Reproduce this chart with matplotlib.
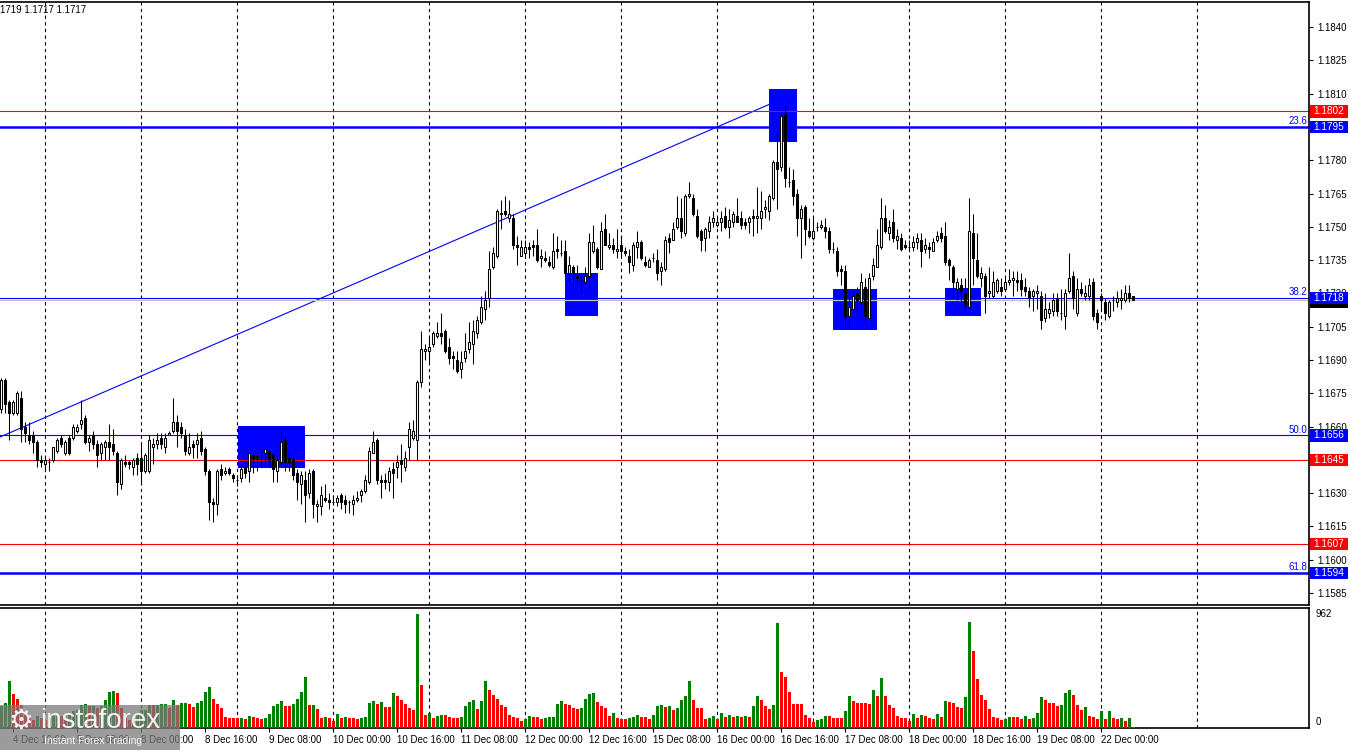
import matplotlib
matplotlib.use("Agg")
import matplotlib.pyplot as plt
import matplotlib.transforms as mtransforms
import numpy as np
from matplotlib.patches import Rectangle

plt.rcParams["font.family"] = ["Liberation Sans", "DejaVu Sans"]

# EURUSD H1 candles, 4 Dec 16:00 .. 22 Dec 08:00
# prices in 1e-4 above 1.0000 (1681 -> 1.1681)
opens = [
    1668, 1681, 1671, 1666, 1666, 1673, 1660, 1656, 1656, 1653,
    1645, 1643, 1644, 1645, 1649, 1655, 1648, 1655, 1655, 1658,
    1661, 1664, 1653, 1656, 1652, 1648, 1651, 1653, 1652, 1648,
    1634, 1644, 1644, 1642, 1646, 1646, 1640, 1640, 1651, 1652,
    1655, 1651, 1656, 1658, 1662, 1660, 1656, 1648, 1652, 1652,
    1655, 1650, 1640, 1626, 1625, 1641, 1639, 1641, 1638, 1636,
    1637, 1642, 1640, 1647, 1647, 1647, 1648, 1649, 1647, 1640,
    1644, 1654, 1646, 1645, 1639, 1634, 1636, 1630, 1640, 1624,
    1624, 1628, 1627, 1626, 1626, 1629, 1627, 1626, 1625, 1627,
    1629, 1631, 1635, 1648, 1654, 1636, 1636, 1635, 1641, 1642,
    1645, 1642, 1651, 1655, 1654, 1680, 1694, 1694, 1697, 1701,
    1702, 1703, 1696, 1692, 1690, 1686, 1691, 1695, 1697, 1702,
    1707, 1713, 1718, 1732, 1737, 1756, 1757, 1754, 1754, 1742,
    1737, 1738, 1741, 1742, 1742, 1736, 1736, 1734, 1732, 1740,
    1738, 1739, 1729, 1732, 1728, 1726, 1725, 1728, 1739, 1740,
    1731, 1749, 1741, 1742, 1739, 1742, 1739, 1737, 1733, 1741,
    1743, 1734, 1732, 1736, 1735, 1730, 1731, 1745, 1744, 1750,
    1754, 1747, 1764, 1763, 1755, 1748, 1745, 1748, 1752, 1751,
    1752, 1755, 1750, 1752, 1755, 1754, 1752, 1752, 1755, 1754,
    1754, 1758, 1757, 1763, 1779, 1777, 1801, 1770, 1771, 1765,
    1754, 1759, 1748, 1745, 1750, 1750, 1750, 1748, 1740, 1739,
    1731, 1730, 1710, 1713, 1720, 1716, 1723, 1709, 1728, 1732,
    1741, 1754, 1747, 1752, 1744, 1745, 1742, 1741, 1741, 1743,
    1744, 1740, 1741, 1739, 1744, 1747, 1746, 1735, 1732, 1722,
    1724, 1720, 1714, 1747, 1735, 1727, 1728, 1720, 1719, 1721,
    1723, 1722, 1725, 1726, 1726, 1726, 1723, 1721, 1719, 1720,
    1719, 1709, 1711, 1712, 1718, 1711, 1710, 1721, 1728, 1711,
    1722, 1719, 1719, 1725, 1711, 1719, 1716, 1710, 1717, 1716,
    1717, 1717, 1720, 1719,
]
highs = [
    1682, 1682, 1672, 1672, 1676, 1676, 1662, 1662, 1658, 1654,
    1647, 1646, 1646, 1651, 1655, 1656, 1654, 1656, 1661, 1661,
    1672, 1665, 1656, 1658, 1654, 1653, 1654, 1661, 1659, 1649,
    1646, 1647, 1645, 1646, 1648, 1652, 1648, 1656, 1655, 1657,
    1657, 1657, 1658, 1673, 1665, 1662, 1659, 1657, 1654, 1657,
    1658, 1651, 1641, 1628, 1641, 1643, 1642, 1642, 1639, 1638,
    1643, 1645, 1649, 1648, 1648, 1649, 1651, 1650, 1648, 1647,
    1658, 1656, 1648, 1647, 1641, 1640, 1640, 1641, 1641, 1627,
    1633, 1634, 1630, 1629, 1629, 1630, 1629, 1627, 1629, 1631,
    1632, 1638, 1651, 1658, 1655, 1638, 1639, 1642, 1644, 1647,
    1652, 1649, 1662, 1663, 1681, 1703, 1697, 1701, 1703, 1707,
    1711, 1704, 1700, 1694, 1694, 1694, 1702, 1707, 1708, 1710,
    1719, 1721, 1739, 1741, 1758, 1762, 1764, 1762, 1756, 1746,
    1744, 1744, 1743, 1744, 1749, 1740, 1739, 1737, 1747, 1746,
    1744, 1744, 1737, 1733, 1733, 1728, 1732, 1747, 1751, 1741,
    1752, 1756, 1747, 1745, 1749, 1746, 1741, 1740, 1743, 1748,
    1744, 1737, 1736, 1738, 1740, 1734, 1746, 1747, 1752, 1764,
    1763, 1765, 1770, 1765, 1758, 1749, 1750, 1755, 1757, 1755,
    1757, 1759, 1758, 1757, 1763, 1757, 1754, 1755, 1758, 1768,
    1766, 1762, 1765, 1780, 1793, 1802, 1805, 1777, 1776, 1767,
    1760, 1760, 1754, 1754, 1752, 1753, 1754, 1750, 1743, 1741,
    1733, 1733, 1720, 1721, 1723, 1729, 1727, 1729, 1736, 1749,
    1763, 1760, 1753, 1758, 1749, 1747, 1744, 1744, 1746, 1747,
    1747, 1745, 1743, 1745, 1748, 1750, 1752, 1736, 1733, 1727,
    1727, 1727, 1763, 1756, 1747, 1732, 1729, 1732, 1730, 1727,
    1727, 1727, 1731, 1730, 1730, 1729, 1727, 1723, 1722, 1724,
    1721, 1720, 1716, 1720, 1720, 1722, 1722, 1738, 1730, 1727,
    1725, 1724, 1727, 1727, 1713, 1720, 1718, 1717, 1719, 1721,
    1722, 1724, 1724, 1719,
]
lows = [
    1666, 1666, 1654, 1665, 1665, 1653, 1653, 1652, 1648, 1642,
    1642, 1640, 1640, 1644, 1648, 1651, 1647, 1647, 1654, 1657,
    1659, 1652, 1649, 1650, 1642, 1645, 1645, 1645, 1647, 1629,
    1632, 1642, 1641, 1638, 1638, 1635, 1639, 1639, 1643, 1650,
    1650, 1648, 1656, 1657, 1651, 1655, 1647, 1647, 1646, 1646,
    1647, 1638, 1618, 1617, 1620, 1636, 1638, 1638, 1635, 1633,
    1635, 1637, 1635, 1639, 1640, 1642, 1643, 1642, 1635, 1635,
    1643, 1640, 1640, 1636, 1627, 1625, 1617, 1628, 1619, 1617,
    1620, 1626, 1623, 1625, 1624, 1623, 1621, 1621, 1620, 1626,
    1626, 1630, 1634, 1648, 1634, 1628, 1632, 1631, 1628, 1637,
    1635, 1640, 1645, 1654, 1645, 1678, 1690, 1688, 1696, 1700,
    1697, 1693, 1688, 1686, 1684, 1682, 1689, 1693, 1688, 1700,
    1706, 1708, 1714, 1731, 1736, 1749, 1755, 1752, 1740, 1733,
    1737, 1736, 1736, 1737, 1734, 1732, 1734, 1732, 1731, 1736,
    1737, 1728, 1725, 1723, 1723, 1720, 1724, 1722, 1738, 1731,
    1731, 1742, 1740, 1738, 1736, 1736, 1737, 1729, 1730, 1736,
    1735, 1732, 1732, 1734, 1726, 1724, 1730, 1738, 1744, 1749,
    1745, 1746, 1763, 1755, 1745, 1739, 1739, 1745, 1750, 1750,
    1748, 1749, 1745, 1750, 1752, 1749, 1749, 1747, 1746, 1747,
    1749, 1754, 1753, 1762, 1758, 1775, 1768, 1768, 1760, 1746,
    1736, 1742, 1745, 1744, 1748, 1749, 1745, 1738, 1738, 1728,
    1724, 1705, 1705, 1712, 1711, 1712, 1706, 1709, 1726, 1732,
    1740, 1747, 1744, 1743, 1740, 1739, 1740, 1740, 1739, 1740,
    1732, 1738, 1736, 1739, 1743, 1743, 1733, 1726, 1718, 1717,
    1716, 1712, 1713, 1724, 1727, 1723, 1711, 1718, 1718, 1720,
    1719, 1721, 1724, 1719, 1721, 1719, 1719, 1714, 1712, 1713,
    1704, 1707, 1709, 1710, 1710, 1708, 1704, 1720, 1713, 1710,
    1719, 1717, 1717, 1708, 1704, 1713, 1708, 1709, 1712, 1714,
    1713, 1716, 1716, 1717,
]
closes = [
    1681, 1670, 1666, 1671, 1675, 1659, 1657, 1654, 1653, 1645,
    1644, 1645, 1644, 1651, 1654, 1652, 1653, 1648, 1660, 1660,
    1663, 1653, 1655, 1652, 1647, 1652, 1653, 1651, 1649, 1635,
    1645, 1643, 1643, 1645, 1643, 1640, 1647, 1654, 1652, 1654,
    1652, 1655, 1657, 1662, 1658, 1657, 1649, 1651, 1651, 1654,
    1649, 1640, 1626, 1625, 1640, 1638, 1640, 1639, 1637, 1636,
    1641, 1639, 1648, 1646, 1646, 1647, 1650, 1645, 1641, 1645,
    1653, 1644, 1644, 1638, 1635, 1638, 1629, 1639, 1625, 1625,
    1629, 1627, 1626, 1626, 1628, 1626, 1625, 1626, 1627, 1628,
    1631, 1636, 1649, 1653, 1636, 1635, 1635, 1640, 1639, 1644,
    1643, 1646, 1659, 1658, 1680, 1695, 1695, 1696, 1702, 1702,
    1701, 1694, 1691, 1691, 1685, 1689, 1694, 1698, 1703, 1708,
    1714, 1717, 1731, 1738, 1757, 1756, 1756, 1756, 1742, 1741,
    1741, 1741, 1740, 1741, 1735, 1737, 1735, 1733, 1739, 1739,
    1738, 1729, 1733, 1729, 1727, 1726, 1728, 1743, 1743, 1732,
    1748, 1742, 1742, 1740, 1740, 1739, 1738, 1734, 1742, 1743,
    1736, 1733, 1735, 1736, 1729, 1732, 1744, 1743, 1749, 1754,
    1748, 1764, 1765, 1756, 1746, 1744, 1749, 1752, 1754, 1752,
    1754, 1750, 1753, 1756, 1752, 1751, 1751, 1754, 1754, 1755,
    1757, 1759, 1764, 1779, 1776, 1800, 1772, 1770, 1764, 1754,
    1758, 1749, 1746, 1748, 1750, 1751, 1748, 1740, 1740, 1730,
    1730, 1710, 1714, 1719, 1717, 1725, 1710, 1727, 1733, 1742,
    1754, 1748, 1750, 1745, 1746, 1740, 1741, 1741, 1743, 1745,
    1739, 1742, 1740, 1743, 1746, 1745, 1734, 1733, 1725, 1725,
    1721, 1715, 1748, 1736, 1728, 1729, 1719, 1721, 1725, 1726,
    1721, 1725, 1726, 1727, 1725, 1722, 1721, 1718, 1721, 1721,
    1708, 1713, 1713, 1717, 1712, 1711, 1720, 1727, 1718, 1722,
    1720, 1720, 1724, 1710, 1707, 1717, 1711, 1716, 1717, 1718,
    1718, 1720, 1718, 1717,
]
volumes = [
    182, 210, 398, 289, 244, 196, 112, 84, 70, 98,
    84, 70, 84, 98, 112, 98, 84, 112, 140, 154,
    196, 205, 182, 188, 168, 182, 238, 306, 314, 297,
    168, 84, 70, 84, 112, 154, 155, 196, 190, 196,
    205, 206, 168, 238, 196, 210, 212, 205, 180, 213,
    230, 306, 348, 247, 205, 171, 95, 87, 86, 85,
    88, 79, 104, 93, 87, 79, 87, 115, 188, 199,
    230, 188, 182, 205, 247, 306, 432, 196, 198, 163,
    87, 95, 87, 62, 121, 87, 95, 87, 86, 79,
    87, 89, 213, 230, 199, 222, 180, 178, 297, 272,
    238, 205, 171, 154, 962, 365, 112, 129, 87, 104,
    112, 110, 95, 87, 86, 95, 188, 222, 232, 163,
    230, 398, 323, 281, 247, 196, 180, 112, 95, 87,
    62, 79, 104, 95, 94, 79, 87, 89, 91, 205,
    230, 205, 196, 170, 163, 171, 247, 289, 297, 222,
    188, 171, 104, 129, 87, 79, 78, 87, 95, 112,
    95, 94, 79, 112, 188, 196, 180, 182, 154, 171,
    238, 272, 398, 238, 171, 170, 79, 87, 104, 79,
    129, 95, 112, 95, 97, 95, 104, 95, 188, 272,
    238, 188, 163, 196, 886, 474, 432, 306, 205, 203,
    200, 112, 87, 53, 70, 79, 104, 102, 87, 86,
    85, 146, 272, 230, 213, 212, 211, 205, 323, 272,
    424, 272, 196, 171, 104, 87, 86, 62, 121, 87,
    112, 104, 87, 79, 121, 95, 230, 222, 213, 180,
    171, 264, 895, 651, 415, 281, 238, 163, 95, 87,
    70, 79, 95, 94, 93, 79, 104, 79, 87, 129,
    264, 238, 213, 212, 188, 196, 297, 323, 281, 196,
    154, 180, 104, 95, 79, 146, 79, 146, 87, 79,
    87, 62, 87, 11,
]

date_labels = ["4 Dec 16:00", "5 Dec 08:00", "8 Dec 00:00", "8 Dec 16:00",
               "9 Dec 08:00", "10 Dec 00:00", "10 Dec 16:00", "11 Dec 08:00",
               "12 Dec 00:00", "12 Dec 16:00", "15 Dec 08:00", "16 Dec 00:00",
               "16 Dec 16:00", "17 Dec 08:00", "18 Dec 00:00", "18 Dec 16:00",
               "19 Dec 08:00", "22 Dec 00:00"]
date_label_bars = [3, 19, 35, 51, 67, 83, 99, 115, 131, 147, 163, 179,
                   195, 211, 227, 243, 259, 275]
day_start_bars = [11, 35, 59, 83, 107, 131, 155, 179, 203, 227, 251, 275, 299]

price_ticks = [1.1585, 1.1600, 1.1615, 1.1630, 1.1645, 1.1660, 1.1675, 1.1690,
               1.1705, 1.1720, 1.1735, 1.1750, 1.1765, 1.1780, 1.1795, 1.1810,
               1.1825, 1.1840]
hidden_ticks = [1.1645, 1.1795]  # fully covered by level tags in the terminal

level_prices = [1.1802, 1.1795, 1.1718, 1.1656, 1.1645, 1.1607, 1.1594]
level_colors = ["#FF0000", "#0000FF", "#0000FF", "#0000FF", "#FF0000", "#FF0000", "#0000FF"]
level_widths = [0.8, 1.8, 0.8, 0.8, 0.8, 0.8, 1.8]
fib_prices = [1.1795, 1.1718, 1.1656, 1.1594]
fib_labels = ["23.6", "38.2", "50.0", "61.8"]
last_price = 1.1717

# blue zones: bar start, bar end, top price, bottom price
zone_start = [59.25, 141.0, 192.0, 208.0, 236.0]
zone_end = [76.0, 149.25, 199.0, 219.0, 245.0]
zone_top = [1.16603, 1.17292, 1.18121, 1.17220, 1.17225]
zone_bottom = [1.16414, 1.17098, 1.17882, 1.17035, 1.17098]

# trend line from the left edge up to the 16 Dec high
trend_bars = [-0.25, 192.25]
trend_prices = [1.16553, 1.18053]

o = 1 + np.array(opens) / 10000
h = 1 + np.array(highs) / 10000
l = 1 + np.array(lows) / 10000
c = 1 + np.array(closes) / 10000
v = np.array(volumes)
x = np.arange(len(o))

W, H = 1350, 750
fig = plt.figure(figsize=(W / 100, H / 100), dpi=100)
fig.patch.set_facecolor("white")
ax = fig.add_axes([0, 1 - 605 / H, 1309 / W, 603 / H])
axv = fig.add_axes([0, 1 - 728 / H, 1309 / W, 120 / H])

xlim = (-0.25, 1309 / 4 - 0.25)
ax.set_xlim(*xlim)
axv.set_xlim(*xlim)
ax.set_ylim(1.15796, 1.18513)
axv.set_ylim(0, 1012)

for a in (ax, axv):
    a.spines["left"].set_visible(False)
    for s in ("top", "bottom", "right"):
        a.spines[s].set_linewidth(1.2)
    for b in day_start_bars:
        a.axvline(b, color="black", lw=0.8, ls=(0, (3, 3)), zorder=0)

# zones and lines
for xs, xe, yt, yb in zip(zone_start, zone_end, zone_top, zone_bottom):
    ax.add_patch(Rectangle((xs, yb), xe - xs, yt - yb, color="#0000FF", lw=0, zorder=1))
ax.plot(trend_bars, trend_prices, color="#0000FF", lw=0.8, zorder=2)
ax.axhline(last_price, color="#C0C0C0", lw=0.9, zorder=2)
for p, col, lw in zip(level_prices, level_colors, level_widths):
    ax.axhline(p, color=col, lw=lw, zorder=2)

# candles
up = c >= o
ax.vlines(x, l, h, color="black", lw=0.75, zorder=3)
body_h = np.maximum(np.abs(c - o), 0.000001)
ax.bar(x, body_h, bottom=np.minimum(o, c), width=0.55,
       color=np.where(up, "white", "black"), edgecolor="black", lw=0.75, zorder=4)

# volumes: green when rising vs previous bar
vol_colors = ["#008000"] + ["#008000" if v[i] > v[i - 1] else "#FF0000" for i in range(1, len(v))]
axv.bar(x, v, width=0.75, color=vol_colors, zorder=3)

# price axis
ax.yaxis.tick_right()
ax.set_yticks(price_ticks)
ax.set_yticklabels(["" if p in hidden_ticks else f"{p:.4f}" for p in price_ticks])
ax.tick_params(axis="y", length=3, width=0.8, pad=3, labelsize=7)
ax.set_xticks([])
axv.set_yticks([])
axv.set_xticks(date_label_bars)
axv.set_xticklabels(date_labels, ha="left")
axv.tick_params(axis="x", length=3, width=0.8, pad=2, labelsize=7)

# level tags on the price scale (fixed-width boxes)
tag_tr = mtransforms.blended_transform_factory(fig.transFigure, ax.transData)
half = 6.2 / 2.2196 / 10000


def price_tag(price, text, face, z):
    fig.add_artist(Rectangle((1310 / W, price - half), 38 / W, 2 * half,
                             transform=tag_tr, color=face, lw=0, zorder=z))
    if text:
        fig.add_artist(plt.Text(1329 / W, price, text, transform=tag_tr, ha="center",
                                va="center", fontsize=7.2, color="white", zorder=z + 0.5))


# last-price tag sits mostly behind the 1.1718 tag, only its lower edge shows
price_tag(last_price - 0.00008, "", "black", 5)
for p, col in zip(level_prices, level_colors):
    price_tag(p, f"{p:.4f}", col, 6)
for p, t in zip(fib_prices, fib_labels):
    ax.text(0.9985, p + 0.00004, t, transform=ax.get_yaxis_transform(), ha="right",
            va="bottom", fontsize=7, color="#0000FF", zorder=10)

fig.text(1316 / W, 1 - 614 / H, "962", fontsize=7, va="center")
fig.text(1316 / W, 1 - 722 / H, "0", fontsize=7, va="center")
fig.text(0, 1 - 10 / H, "1719 1.1717 1.1717", fontsize=7, va="center")

# watermark
fig.add_artist(Rectangle((0, 0), 180 / W, 45 / H, transform=fig.transFigure,
                         color="#7a7a7a", alpha=0.75, lw=0, zorder=20))
fig.text(8 / W, 1 - 722 / H, "\u2699", fontsize=20, color="#f2f2f2", va="center", zorder=21)
fig.text(40 / W, 1 - 721 / H, "instaforex", fontsize=20, color="#f2f2f2", va="center", zorder=21)
fig.text(44 / W, 1 - 741 / H, "Instant Forex Trading", fontsize=7.5, color="#f2f2f2",
         va="center", zorder=21)

fig.savefig("out.png", dpi=100)
